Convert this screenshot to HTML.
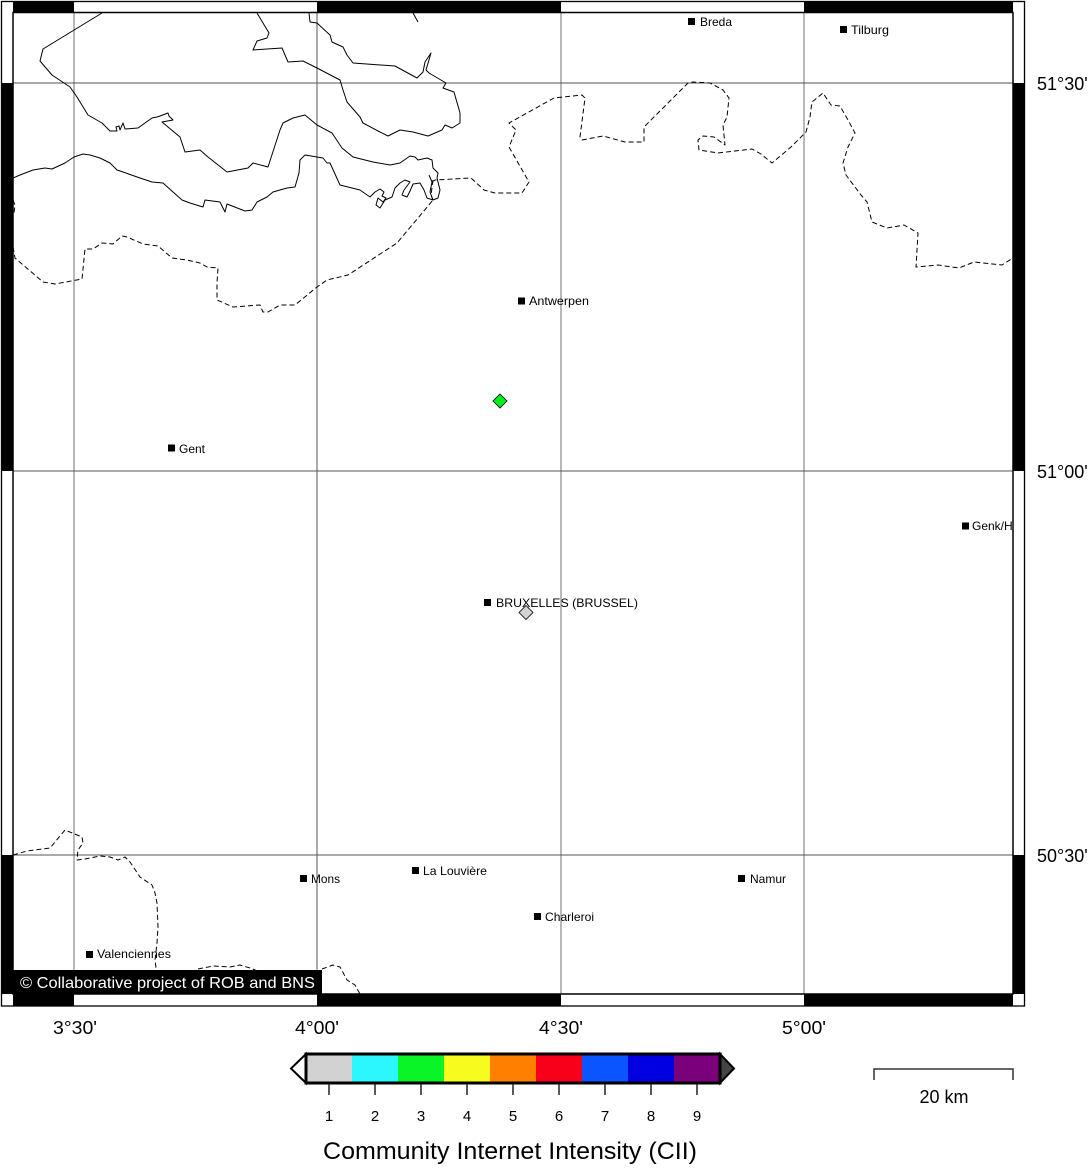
<!DOCTYPE html>
<html><head><meta charset="utf-8"><style>
html,body{margin:0;padding:0;background:#fff;}
svg{display:block;}
text{font-family:"Liberation Sans",Arial,sans-serif;}
</style></head><body>
<svg width="1088" height="1168" viewBox="0 0 1088 1168" xmlns="http://www.w3.org/2000/svg">
<rect x="0" y="0" width="1088" height="1168" fill="#fff"/>
<defs><clipPath id="map"><rect x="13" y="12.5" width="1000" height="981.5"/></clipPath></defs>

<g clip-path="url(#map)">
<rect x="73" y="12" width="2" height="982" fill="#b8b8b8"/>
<rect x="316.5" y="12" width="1" height="982" fill="#555"/>
<rect x="560" y="12" width="2" height="982" fill="#b8b8b8"/>
<rect x="803" y="12" width="2" height="982" fill="#b8b8b8"/>
<rect x="13" y="82.5" width="1000" height="1" fill="#555"/>
<rect x="13" y="470.5" width="1000" height="1" fill="#555"/>
<rect x="13" y="854.5" width="1000" height="1" fill="#555"/>

<g fill="none" stroke="#000" stroke-width="1" stroke-linejoin="round">
<polyline points="102,13 43,49 40,61 52,75 70,87 77,97 88,115 102,123 110,131 117,131 116,127 119,126 120,130 123,123 125,129 138,128 145,123 152,118 157,117 160,116 168,113 169,116 173,120 162,122 180,137 185,152 200,150 208,157 227,172 248,168 253,163 268,167 280,130 283,123 293,118 305,115 317,125 332,133 342,148 353,157 373,162 390,165 400,163 410,156 415,157 418,160 427,158 432,160 433,168 438,173 437,178 440,190 438,198 433,200 430,192 432,182 429,175"/>
<polyline points="13,178 20,175 33,170 45,168 52,169 65,163 74,157 83,154 90,155 100,158 110,163 117,170 123,172 140,178 152,182 163,183 173,192 182,200 190,203 203,207 205,200 220,202 225,212 227,204 245,211 252,210 257,202 267,197 273,192 287,188 295,187 299,173 300,160 305,155 323,158 327,163 330,163 340,185 360,190 370,197 375,192 380,189 384,192 382,196 386,198 383,202 378,198 376,205 380,208 385,200 392,197 395,188 400,183 405,180 410,182 404,190 402,195 407,197 410,191 413,184 420,183 424,190 427,198 433,200"/>
<polyline points="257,13 269,33 267,38 257,41 253,50 282,48 288,62 303,61 317,68 340,80 343,90 347,102 360,117 363,123 380,132 388,136 400,130 413,132 428,136 442,130 445,125 452,128 460,123 460,113 454,92 443,88 446,83 429,73 426,70 431,53 425,62 423,72 417,78 395,66 353,63 347,55 343,47 332,42 330,35 317,23 310,22 309,13"/>
<polyline points="413,13 418,22"/>
</g>

<g fill="none" stroke="#000" stroke-width="1" stroke-dasharray="5,3" stroke-linejoin="round">
<polyline points="13,200 15,205 14,213"/>
<polyline points="13,247 15,258 43,282 55,284 82,279 85,249 93,249 102,243 113,244 122,236 127,237 143,244 158,246 172,258 187,260 200,263 207,267 218,268 217,283 217,300 233,307 260,305 263,312 268,312 280,305 295,305 317,287 327,280 348,275 397,243 418,218 433,200"/>
<polyline points="433,180 431,195 433,200"/>
<polyline points="432,182 435,180 471,178 484,190 495,193 522,193 529,182 509,147 516,130 509,123 554,98 582,95 585,98 580,137 582,140 603,136 625,142 644,142 644,127 659,112 671,100 688,83 693,82 710,83 723,90 729,98 727,117 723,125 725,145 714,137 703,136 698,140 699,150 718,153 752,149 761,154 772,163 791,147 806,132 810,117 812,102 823,93 831,105 840,106 848,120 855,133 848,147 843,163 846,175 861,195 867,202 872,222 887,228 904,225 918,233 916,267 938,265 959,268 974,262 1002,265 1013,258"/>
<polyline points="13,855 27,851 50,848 65,830 82,837 83,843 78,850 77,860 85,859 100,856 110,857 118,860 125,857 130,862 140,877 152,885 155,893 157,903 158,927 157,943 155,960 157,975"/>
<polyline points="198,969 213,966 230,967 240,965 250,968 260,972"/>
<polyline points="322,969 333,965 340,967 347,980 355,985 360,994"/>
</g>

<g fill="#000" font-size="12">
<rect x="688" y="18" width="7" height="7"/><text x="700" y="26" textLength="32" lengthAdjust="spacingAndGlyphs">Breda</text>
<rect x="840" y="26" width="7" height="7"/><text x="851" y="34" textLength="38" lengthAdjust="spacingAndGlyphs">Tilburg</text>
<rect x="518" y="297.5" width="7" height="7"/><text x="529" y="305" textLength="60" lengthAdjust="spacingAndGlyphs">Antwerpen</text>
<rect x="168" y="444.5" width="7" height="7"/><text x="179" y="453" textLength="26" lengthAdjust="spacingAndGlyphs">Gent</text>
<rect x="962" y="522.5" width="7" height="7"/><text x="972" y="530">Genk/Hasselt</text>
<rect x="484" y="599" width="7" height="7"/><text x="496" y="607" textLength="142" lengthAdjust="spacingAndGlyphs">BRUXELLES (BRUSSEL)</text>
<rect x="300" y="875" width="7" height="7"/><text x="311" y="883" textLength="29" lengthAdjust="spacingAndGlyphs">Mons</text>
<rect x="412" y="867" width="7" height="7"/><text x="423" y="875" textLength="64" lengthAdjust="spacingAndGlyphs">La Louvière</text>
<rect x="738" y="875" width="7" height="7"/><text x="750" y="883" textLength="36" lengthAdjust="spacingAndGlyphs">Namur</text>
<rect x="534" y="913" width="7" height="7"/><text x="545" y="921" textLength="49" lengthAdjust="spacingAndGlyphs">Charleroi</text>
<rect x="86" y="951" width="7" height="7"/><text x="97" y="958" textLength="74" lengthAdjust="spacingAndGlyphs">Valenciennes</text>
</g>

<polygon points="500,394 507,401 500,408 493,401" fill="#00f020" stroke="#000" stroke-width="0.8"/>
<polygon points="526,605.5 533,612.5 526,619.5 519,612.5" fill="#d3d3d3" stroke="#000" stroke-width="0.8"/>

<rect x="13" y="970" width="309" height="24" fill="#000"/>
<text x="20" y="988" font-size="16" fill="#fff" textLength="295" lengthAdjust="spacingAndGlyphs">© Collaborative project of ROB and BNS</text>
</g>

<g fill="#000">
<rect x="13" y="1" width="61" height="11.5"/>
<rect x="317" y="1" width="244" height="11.5"/>
<rect x="804" y="1" width="209" height="11.5"/>
<rect x="13" y="994" width="61" height="12"/>
<rect x="317" y="994" width="244" height="12"/>
<rect x="804" y="994" width="209" height="12"/>
<rect x="1" y="83" width="12" height="388"/>
<rect x="1" y="855" width="12" height="139"/>
<rect x="1013" y="83" width="12" height="388"/>
<rect x="1013" y="855" width="12" height="139"/>
</g>
<rect x="1.5" y="1.5" width="1023" height="1004.5" fill="none" stroke="#000" stroke-width="1.3"/>
<rect x="13" y="12.5" width="1000" height="981.5" fill="none" stroke="#000" stroke-width="1.5"/>

<g font-size="18" fill="#000">
<text x="1037" y="90">51°30'</text>
<text x="1037" y="478">51°00'</text>
<text x="1037" y="862">50°30'</text>
<text x="53" y="1034" textLength="44" lengthAdjust="spacingAndGlyphs">3°30'</text>
<text x="295" y="1034" textLength="44" lengthAdjust="spacingAndGlyphs">4°00'</text>
<text x="539" y="1034" textLength="44" lengthAdjust="spacingAndGlyphs">4°30'</text>
<text x="782" y="1034" textLength="44" lengthAdjust="spacingAndGlyphs">5°00'</text>
</g>

<polygon points="306,1054 306,1083 291,1068.5" fill="#fff" stroke="#000" stroke-width="2"/>
<polygon points="720,1054 720,1083 734,1068.5" fill="#444" stroke="#000" stroke-width="2"/>
<rect x="306" y="1054" width="46" height="29" fill="#d2d2d2"/>
<rect x="352" y="1054" width="46" height="29" fill="#2cf7ff"/>
<rect x="398" y="1054" width="46" height="29" fill="#0af527"/>
<rect x="444" y="1054" width="46" height="29" fill="#f7fb1e"/>
<rect x="490" y="1054" width="46" height="29" fill="#ff8000"/>
<rect x="536" y="1054" width="46" height="29" fill="#f8001a"/>
<rect x="582" y="1054" width="46" height="29" fill="#0a55ff"/>
<rect x="628" y="1054" width="46" height="29" fill="#0000e0"/>
<rect x="674" y="1054" width="46" height="29" fill="#7b007b"/>
<rect x="306" y="1054" width="414" height="29" fill="none" stroke="#000" stroke-width="3"/>
<g stroke="#222" stroke-width="1.5">
<line x1="329" y1="1084" x2="329" y2="1095"/>
<line x1="375" y1="1084" x2="375" y2="1095"/>
<line x1="421" y1="1084" x2="421" y2="1095"/>
<line x1="467" y1="1084" x2="467" y2="1095"/>
<line x1="513" y1="1084" x2="513" y2="1095"/>
<line x1="559" y1="1084" x2="559" y2="1095"/>
<line x1="605" y1="1084" x2="605" y2="1095"/>
<line x1="651" y1="1084" x2="651" y2="1095"/>
<line x1="697" y1="1084" x2="697" y2="1095"/>
</g>
<g font-size="15" fill="#000" text-anchor="middle">
<text x="329" y="1121">1</text>
<text x="375" y="1121">2</text>
<text x="421" y="1121">3</text>
<text x="467" y="1121">4</text>
<text x="513" y="1121">5</text>
<text x="559" y="1121">6</text>
<text x="605" y="1121">7</text>
<text x="651" y="1121">8</text>
<text x="697" y="1121">9</text>
</g>
<text x="510" y="1159" font-size="24" text-anchor="middle" fill="#000" textLength="374" lengthAdjust="spacingAndGlyphs">Community Internet Intensity (CII)</text>

<polyline points="874,1080 874,1069 1013,1069 1013,1080" fill="none" stroke="#333" stroke-width="1.5"/>
<text x="944" y="1103" font-size="18" text-anchor="middle" fill="#000">20 km</text>
</svg>
</body></html>
